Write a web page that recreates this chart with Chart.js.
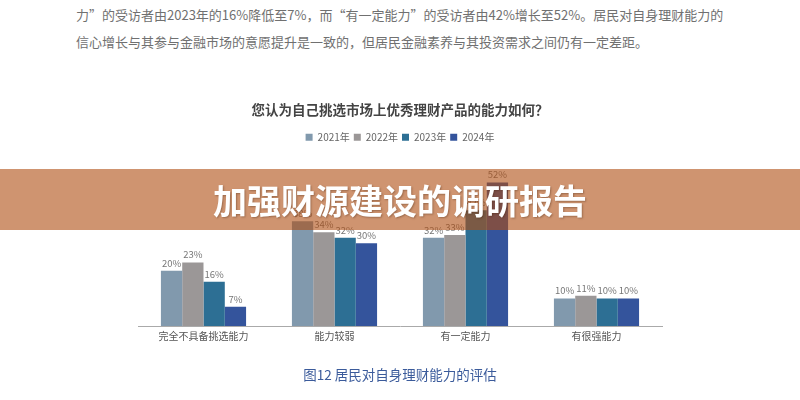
<!DOCTYPE html>
<html>
<head>
<meta charset="utf-8">
<script src="https://cdn.jsdelivr.net/npm/chart.js@4"></script>
<style>
    html, body{ margin:0; padding:0; background:#ffffff; }
    body{ width:800px; height:400px; position:relative; overflow:hidden; font-family:"Noto Sans CJK SC", sans-serif; }
    #chart-box{ position:absolute; left:0; top:0; width:800px; height:400px; }
    .para{ position:absolute; left:76px; font-size:13px; color:#707070; white-space:nowrap; line-height:1; }
    #caption{ position:absolute; left:0; width:800px; top:368px; text-align:center; font-size:13.5px; color:#3b5b9b; line-height:1; }
    #banner{ position:absolute; left:0; top:169px; width:800px; height:61px; background:rgba(175,77,17,0.6);
             color:#ffffff; font-weight:bold; font-size:34px; line-height:61px; text-align:center;
             text-shadow:1px 1px 2px rgba(60,30,10,0.35); }
</style>
</head>
<body>
<div class="para" style="top:8px;">力”的受访者由2023年的16%降低至7%，而“有一定能力”的受访者由42%增长至52%。居民对自身理财能力的</div>
<div class="para" style="top:35px;">信心增长与其参与金融市场的意愿提升是一致的，但居民金融素养与其投资需求之间仍有一定差距。</div>
<div id="chart-box"><canvas id="ability-chart"></canvas></div>
<div id="caption">图12 居民对自身理财能力的评估</div>
<div id="banner">加强财源建设的调研报告</div>

<script>
//CHART DATA
let categories = ['完全不具备挑选能力', '能力较弱', '有一定能力', '有很强能力'];
let seriesNames = ['2021年', '2022年', '2023年', '2024年'];
let values2021 = [20, 38, 32, 10];
let values2022 = [23, 34, 33, 11];
let values2023 = [16, 32, 42, 10];
let values2024 = [7, 30, 52, 10];
let barColors = ["#8199ad", "#9b9797", "#2d6f94", "#34549c"];

let fontFamily = '"Noto Sans CJK SC", sans-serif';

//draws the percent above every bar
let valueLabels = {
    id: 'valueLabels',
    afterDatasetsDraw(chart){
        let ctx = chart.ctx;
        ctx.save();
        ctx.font = `9.5px ${fontFamily}`;
        ctx.fillStyle = "#777777";
        ctx.textAlign = 'center';
        ctx.textBaseline = 'bottom';
        chart.data.datasets.forEach((ds, i) =>{
            let meta = chart.getDatasetMeta(i);
            meta.data.forEach((bar, j) =>{
                ctx.fillText(`${ds.data[j]}%`, bar.x, bar.y - 3);
            });
        });
        ctx.restore();
    }
};

let allValues = [values2021, values2022, values2023, values2024];
let datasets = seriesNames.map((name, i) =>{
    return {
        label: name,
        data: allValues[i],
        backgroundColor: barColors[i],
        barPercentage: 1,
        categoryPercentage: 0.65
    };
});

let config = {
    type: 'bar',
    data: {
        labels: categories,
        datasets: datasets
    },
    options: {
        responsive: true,
        maintainAspectRatio: false,
        animation: false,
        layout: {
            padding: {left: 138, right: 138, top: 0, bottom: 54}
        },
        scales: {
            x: {
                grid: {display: false, drawTicks: false},
                border: {display: true, color: "#aaaaaa", width: 1},
                ticks: {
                    color: "#555555",
                    padding: 4,
                    font: {family: fontFamily, size: 10}
                }
            },
            y: {
                display: false,
                min: 0,
                max: 63
            }
        },
        plugins: {
            legend: {
                position: 'top',
                labels: {
                    boxWidth: 7,
                    boxHeight: 7,
                    padding: 4,
                    color: "#666666",
                    font: {family: fontFamily, size: 10}
                }
            },
            title: {
                display: true,
                text: '您认为自己挑选市场上优秀理财产品的能力如何？',
                color: "#444444",
                font: {family: fontFamily, size: 13.5, weight: 'bold'},
                padding: {top: 102, bottom: 10}
            },
            tooltip: {enabled: false}
        }
    },
    plugins: [valueLabels]
};

new Chart(
    document.querySelector("#ability-chart"),
    config
);
</script>
</body>
</html>
